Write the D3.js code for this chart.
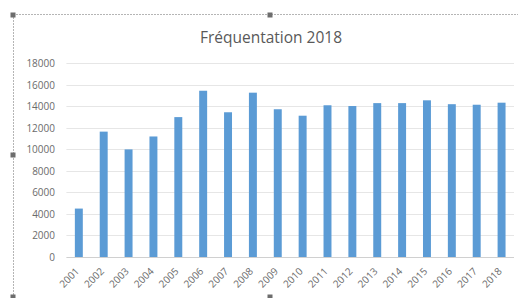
<!DOCTYPE html>
<html>
<head>
<meta charset="utf-8">
<script src="https://cdn.jsdelivr.net/npm/d3@7"></script>
<style>
  body { margin: 0; background: #fff; }
  svg { display: block; font-family: "Open Sans", "Liberation Sans", sans-serif; }
</style>
</head>
<body>
<div id="chart"></div>
<script>
// visitor counts per year
var years = ["2001","2002","2003","2004","2005","2006","2007","2008","2009",
             "2010","2011","2012","2013","2014","2015","2016","2017","2018"];
var visits = [4500, 11650, 10000, 11200, 13000, 15450, 13450, 15270, 13730,
              13130, 14100, 14030, 14300, 14300, 14560, 14200, 14150, 14340];
var yTicks = [0, 2000, 4000, 6000, 8000, 10000, 12000, 14000, 16000, 18000];

var width = 518, height = 298;

var svg = d3.select("#chart").append("svg")
  .attr("width", width)
  .attr("height", height);

// selection frame (dashed) like the chart is selected in the editor
svg.append("line")
  .attr("x1", 13).attr("y1", 14.5).attr("x2", width).attr("y2", 14.5)
  .style("stroke", "#b5b5b5").style("stroke-dasharray", "2,1");
svg.append("line")
  .attr("x1", 13.5).attr("y1", 14).attr("x2", 13.5).attr("y2", height)
  .style("stroke", "#b5b5b5").style("stroke-dasharray", "2,1");
[[13, 15], [270, 15], [13, 155], [13, 297], [270, 297]].forEach(function(h){
  svg.append("rect")
    .attr("x", h[0] - 2.5).attr("y", h[1] - 2.5)
    .attr("width", 5).attr("height", 5)
    .style("fill", "#6d6d6d");
});

var x = d3.scaleBand()
  .domain(years)
  .range([66.4, 514])
  .paddingInner(0.68)
  .paddingOuter(0.34);

var y = d3.scaleLinear()
  .domain([0, 18000])
  .range([257, 63.3]);

// gridlines
svg.append("g")
  .selectAll("line")
  .data(yTicks)
  .enter().append("line")
  .attr("x1", 66.4)
  .attr("x2", 514)
  .attr("y1", function(d){ return Math.round(y(d)) + 0.5; })
  .attr("y2", function(d){ return Math.round(y(d)) + 0.5; })
  .style("stroke", function(d){ return d == 0 ? "#d0d0d0" : "#e6e6e6"; });

// y axis labels
var yAxis = d3.axisLeft(y).tickValues(yTicks).tickFormat(d3.format("d")).tickSize(0).tickPadding(0);
var gy = svg.append("g")
  .attr("transform", "translate(55,0)")
  .call(yAxis);
gy.select(".domain").remove();
gy.selectAll("text")
  .style("font-size", "10px")
  .style("fill", "#6b6b6b")
  .style("font-family", "'Open Sans', sans-serif");

// bars
svg.append("g")
  .selectAll("rect")
  .data(visits)
  .enter().append("rect")
  .attr("x", function(d, i){ return x(years[i]); })
  .attr("width", x.bandwidth())
  .attr("y", function(d){ return y(d); })
  .attr("height", function(d){ return y(0) - y(d); })
  .style("fill", "#5b9bd5");

// x axis labels, rotated
var xAxis = d3.axisBottom(x).tickSize(0).tickPadding(0);
var gx = svg.append("g")
  .attr("transform", "translate(0,257)")
  .call(xAxis);
gx.select(".domain").remove();
gx.selectAll("text")
  .attr("x", 0).attr("y", 0).attr("dy", null)
  .attr("transform", "translate(1,15) rotate(-45)")
  .style("text-anchor", "end")
  .style("font-size", "10px")
  .style("fill", "#6b6b6b")
  .style("font-family", "'Open Sans', sans-serif");

// title
svg.append("text")
  .attr("x", 271)
  .attr("y", 43)
  .text("Fréquentation 2018")
  .style("text-anchor", "middle")
  .style("font-size", "15.5px")
  .style("fill", "#595959");
</script>
</body>
</html>
